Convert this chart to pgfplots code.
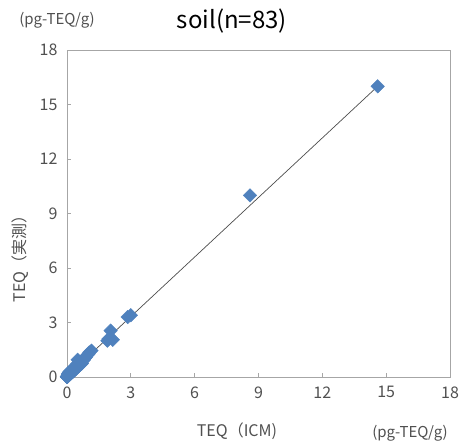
\documentclass[border=0pt]{standalone}
\usepackage{pgfplots}
\pgfplotsset{compat=1.18}
\usepackage{fontspec}
\setmainfont{Noto Sans CJK JP}
\definecolor{xlblue}{HTML}{4F81BD}
\definecolor{frame}{HTML}{A6A6A6}
\definecolor{txt}{HTML}{505050}
\begin{document}
\begin{tikzpicture}
\begin{axis}[
  at={(0pt,0pt)}, anchor=south west,
  scale only axis, width=383pt, height=327pt,
  xmin=0, xmax=18, ymin=0, ymax=18,
  xtick={0,3,...,18}, ytick={0,3,...,18},
  /pgf/number format/assume math mode=true,
  axis line style={frame, line width=0.8pt},
  tick style={frame, line width=0.8pt},
  tick align=inside, major tick length=4pt,
  xtick pos=bottom, ytick pos=left,
  tick label style={font=\fontsize{16}{18}\selectfont, text=txt},
  xticklabel style={yshift=-6pt},
  yticklabel style={xshift=-6pt},
  clip=false,
]
\addplot[black!70, line width=0.7pt] coordinates {(0,0.05) (14.6,16.0)};
\addplot[only marks, mark=square*, mark size=4.8pt, mark options={rotate=45, fill=xlblue, draw=xlblue}] coordinates {
(14.6,16.0) (8.6,10.0) (3.0,3.4) (2.85,3.3) (2.05,2.55) (1.95,2.1) (2.15,2.05) (1.9,2.0)
(1.15,1.45) (1.05,1.35) (0.95,1.2) (0.85,1.05) (0.75,0.9) (0.6,0.8) (0.5,0.95) (0.45,0.7)
(0.4,0.55) (0.35,0.5) (0.3,0.45) (0.25,0.35) (0.7,0.75) (0.65,0.7) (0.55,0.6) (0.5,0.55)
(0.45,0.5) (0.42,0.45) (0.38,0.4) (0.33,0.38) (0.3,0.33) (0.28,0.3) (0.25,0.28) (0.22,0.25)
(0.2,0.22) (0.18,0.2) (0.16,0.2) (0.15,0.18) (0.14,0.16) (0.12,0.15) (0.11,0.13) (0.1,0.12)
(0.09,0.11) (0.08,0.1) (0.07,0.09) (0.06,0.08) (0.05,0.07) (0.05,0.06) (0.04,0.05) (0.04,0.05)
(0.03,0.04) (0.03,0.04) (0.02,0.03) (0.02,0.03) (0.02,0.02) (0.01,0.02) (0.01,0.02) (0.01,0.01)
(0.01,0.01) (0.0,0.01) (0.0,0.01) (0.0,0.0) (0.08,0.2) (0.1,0.25) (0.12,0.3) (0.15,0.3)
(0.2,0.35) (0.05,0.15) (0.03,0.1) (0.06,0.2) (0.18,0.28) (0.22,0.3) (0.28,0.4) (0.32,0.42)
(0.36,0.48) (0.4,0.5) (0.48,0.62) (0.52,0.7) (0.58,0.75) (0.62,0.82) (0.68,0.85) (0.72,0.92)
(0.8,0.95) (0.9,1.1) (1.0,1.25)
};
\end{axis}
\path[use as bounding box] (-67pt,-70pt) rectangle (398pt,377pt);
\node[font=\fontsize{24}{28}\selectfont] at (165pt,356pt) {soil(n=83)};
\node[font=\fontsize{15}{17}\selectfont, text=txt] at (-10pt,357pt) {(pg-TEQ/g)};
\node[font=\fontsize{16}{18}\selectfont, text=txt] at (170pt,-54pt) {TEQ（ICM)};
\node[font=\fontsize{15}{17}\selectfont, text=txt] at (343pt,-56pt) {(pg-TEQ/g)};
\node[font=\fontsize{16}{18}\selectfont, text=txt, rotate=90] at (-47pt,122pt) {TEQ（実測）};
\end{tikzpicture}
\end{document}
